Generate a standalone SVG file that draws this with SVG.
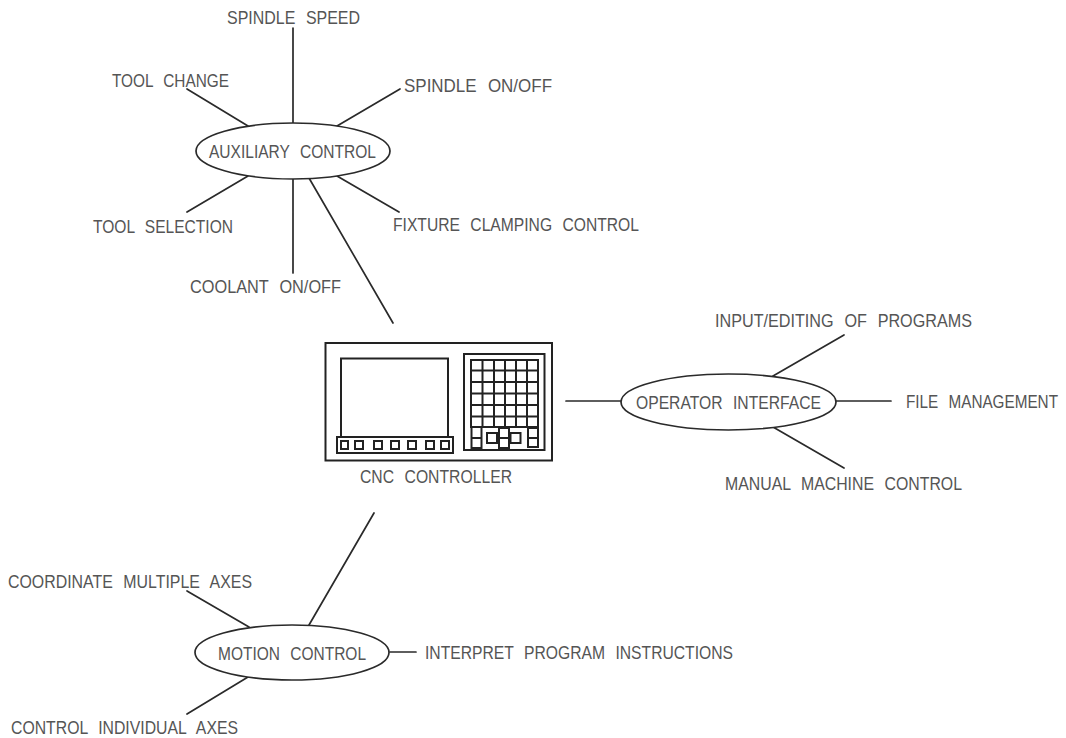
<svg xmlns="http://www.w3.org/2000/svg" width="1066" height="738" viewBox="0 0 1066 738">
<style>
.t{font-family:"Liberation Sans",Arial,sans-serif;font-size:18px;fill:#555;word-spacing:7px}
.l{stroke:#2a2a2a;stroke-width:1.7;fill:none;stroke-linecap:round}
.o{stroke:#2a2a2a;stroke-width:1.7;fill:#fff}
.k{stroke:#222;stroke-width:2;fill:#fff}
</style>
<rect width="1066" height="738" fill="#fff"/>
<g id="connectors" class="l">
<path d="M293 28V123M187 89L248 126M400 89L337 126M248 176L187 212M293 178V273M337 176L399 212M309 178L393 323M566 401H621M836 401H891M773 376L844 335M773 427L844 468M374 513L309 625M187 591L249 627M248 677L187 714M390 652H416"/>
</g>
<g id="auxiliary-control"><ellipse class="o" cx="293" cy="151" rx="97" ry="28"/><text class="t" x="209" y="158" textLength="167" lengthAdjust="spacingAndGlyphs">AUXILIARY CONTROL</text></g>
<g id="operator-interface"><ellipse class="o" cx="728.500" cy="402" rx="107.500" ry="28"/><text class="t" x="636" y="409" textLength="185" lengthAdjust="spacingAndGlyphs">OPERATOR INTERFACE</text></g>
<g id="motion-control"><ellipse class="o" cx="292" cy="652.500" rx="97" ry="27.500"/><text class="t" x="218" y="660" textLength="148" lengthAdjust="spacingAndGlyphs">MOTION CONTROL</text></g>
<g id="cnc-controller">
<rect class="k" x="325.500" y="343" width="226.500" height="117.500"/>
<rect class="k" x="341" y="358.500" width="107" height="79"/>
<rect class="k" x="337" y="437" width="116" height="16"/>
<path class="k" d="M341 441h7v8h-7zM355 441h8v8h-8zM374 441h8v8h-8zM391 441h8v8h-8zM408 441h8v8h-8zM426 441h8v8h-8zM441 441h8v8h-8z"/>
<rect class="k" x="464" y="354" width="80.500" height="96"/>
<path class="k" stroke-width="2.300" d="M471 360H538V427H471ZM482.500 360V427M494 360V427M505 360V427M516 360V427M527 360V427M471 370.500H538M471 382H538M471 393.500H538M471 405H538M471 416.500H538"/>
<path class="k" d="M471.500 427h10v11h-10zM471.500 438h10v10h-10zM487 433h10v10h-10zM499 428h10v10h-10zM499 438h10v10h-10zM510.500 433h10v10h-10zM528 428h10v10h-10zM528 438h10v9h-10z"/>
<text class="t" x="360" y="483" textLength="152" lengthAdjust="spacingAndGlyphs">CNC CONTROLLER</text>
</g>
<g id="labels">
<text class="t" x="227" y="24" textLength="133" lengthAdjust="spacingAndGlyphs">SPINDLE SPEED</text>
<text class="t" x="112" y="87" textLength="117" lengthAdjust="spacingAndGlyphs">TOOL CHANGE</text>
<text class="t" x="404" y="91.500" textLength="148" lengthAdjust="spacingAndGlyphs">SPINDLE ON/OFF</text>
<text class="t" x="93" y="233" textLength="140" lengthAdjust="spacingAndGlyphs">TOOL SELECTION</text>
<text class="t" x="393" y="231" textLength="246" lengthAdjust="spacingAndGlyphs">FIXTURE CLAMPING CONTROL</text>
<text class="t" x="190" y="293" textLength="151" lengthAdjust="spacingAndGlyphs">COOLANT ON/OFF</text>
<text class="t" x="715" y="327" textLength="257" lengthAdjust="spacingAndGlyphs">INPUT/EDITING OF PROGRAMS</text>
<text class="t" transform="translate(906 408) scale(.85 1)" textLength="178.800" lengthAdjust="spacingAndGlyphs">FILE MANAGEMENT</text>
<text class="t" x="725" y="490" textLength="237" lengthAdjust="spacingAndGlyphs">MANUAL MACHINE CONTROL</text>
<text class="t" x="8" y="588" textLength="244" lengthAdjust="spacingAndGlyphs">COORDINATE MULTIPLE AXES</text>
<text class="t" x="425" y="659" textLength="308" lengthAdjust="spacingAndGlyphs">INTERPRET PROGRAM INSTRUCTIONS</text>
<text class="t" x="11" y="734" textLength="227" lengthAdjust="spacingAndGlyphs">CONTROL INDIVIDUAL AXES</text>
</g>
</svg>
